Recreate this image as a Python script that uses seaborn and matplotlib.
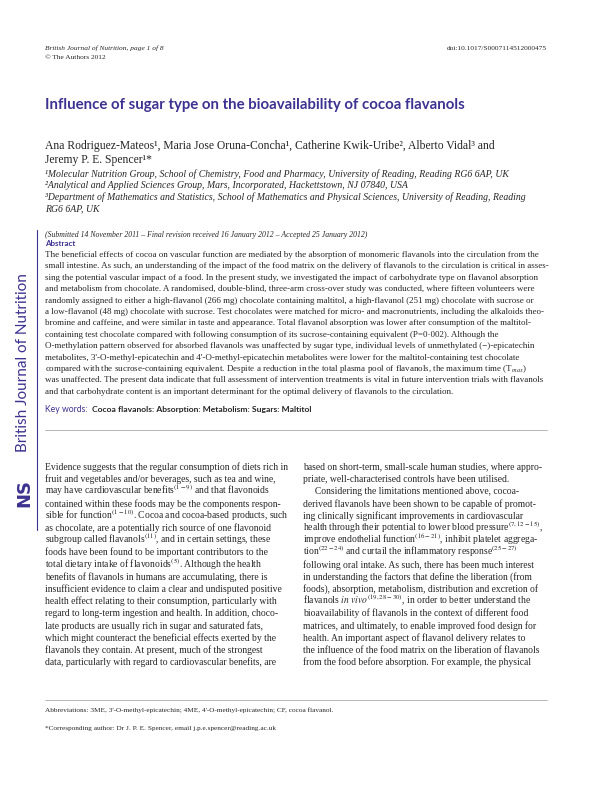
import matplotlib
matplotlib.use("Agg")
import matplotlib.pyplot as plt
import seaborn as sns

sns.set_theme(style="white")
plt.rcParams['font.family'] = ['Liberation Serif', 'DejaVu Serif']
plt.rcParams['mathtext.fontset'] = 'stix'

PURPLE = "#3d3191"
TITLE = "Influence of sugar type on the bioavailability of cocoa flavanols"
header_left = ["British Journal of Nutrition, page 1 of 8", "© The Authors 2012"]
header_right = "doi:10.1017/S0007114512000475"
authors = ["Ana Rodriguez-Mateos¹, Maria Jose Oruna-Concha¹, Catherine Kwik-Uribe², Alberto Vidal³ and",
           "Jeremy P. E. Spencer¹*"]
affil = ["¹Molecular Nutrition Group, School of Chemistry, Food and Pharmacy, University of Reading, Reading RG6 6AP, UK",
         "²Analytical and Applied Sciences Group, Mars, Incorporated, Hackettstown, NJ 07840, USA",
         "³Department of Mathematics and Statistics, School of Mathematics and Physical Sciences, University of Reading, Reading",
         "RG6 6AP, UK"]
submitted = "(Submitted 14 November 2011 – Final revision received 16 January 2012 – Accepted 25 January 2012)"
abstract = [
    "The beneficial effects of cocoa on vascular function are mediated by the absorption of monomeric flavanols into the circulation from the",
    "small intestine. As such, an understanding of the impact of the food matrix on the delivery of flavanols to the circulation is critical in asses-",
    "sing the potential vascular impact of a food. In the present study, we investigated the impact of carbohydrate type on flavanol absorption",
    "and metabolism from chocolate. A randomised, double-blind, three-arm cross-over study was conducted, where fifteen volunteers were",
    "randomly assigned to either a high-flavanol (266 mg) chocolate containing maltitol, a high-flavanol (251 mg) chocolate with sucrose or",
    "a low-flavanol (48 mg) chocolate with sucrose. Test chocolates were matched for micro- and macronutrients, including the alkaloids theo-",
    "bromine and caffeine, and were similar in taste and appearance. Total flavanol absorption was lower after consumption of the maltitol-",
    "containing test chocolate compared with following consumption of its sucrose-containing equivalent (P=0·002). Although the",
    "O-methylation pattern observed for absorbed flavanols was unaffected by sugar type, individual levels of unmethylated (−)-epicatechin",
    "metabolites, 3'-O-methyl-epicatechin and 4'-O-methyl-epicatechin metabolites were lower for the maltitol-containing test chocolate",
    "compared with the sucrose-containing equivalent. Despite a reduction in the total plasma pool of flavanols, the maximum time (T$_{max}$)",
    "was unaffected. The present data indicate that full assessment of intervention treatments is vital in future intervention trials with flavanols",
    "and that carbohydrate content is an important determinant for the optimal delivery of flavanols to the circulation."]
keywords = "Cocoa flavanols: Absorption: Metabolism: Sugars: Maltitol"
col_left = [
    "Evidence suggests that the regular consumption of diets rich in",
    "fruit and vegetables and/or beverages, such as tea and wine,",
    "may have cardiovascular benefits$^{(1-9)}$ and that flavonoids",
    "contained within these foods may be the components respon-",
    "sible for function$^{(1-10)}$. Cocoa and cocoa-based products, such",
    "as chocolate, are a potentially rich source of one flavonoid",
    "subgroup called flavanols$^{(11)}$, and in certain settings, these",
    "foods have been found to be important contributors to the",
    "total dietary intake of flavonoids$^{(5)}$. Although the health",
    "benefits of flavanols in humans are accumulating, there is",
    "insufficient evidence to claim a clear and undisputed positive",
    "health effect relating to their consumption, particularly with",
    "regard to long-term ingestion and health. In addition, choco-",
    "late products are usually rich in sugar and saturated fats,",
    "which might counteract the beneficial effects exerted by the",
    "flavanols they contain. At present, much of the strongest",
    "data, particularly with regard to cardiovascular benefits, are"]
col_right = [
    "based on short-term, small-scale human studies, where appro-",
    "priate, well-characterised controls have been utilised.",
    "     Considering the limitations mentioned above, cocoa-",
    "derived flavanols have been shown to be capable of promot-",
    "ing clinically significant improvements in cardiovascular",
    "health through their potential to lower blood pressure$^{(7,12-15)}$,",
    "improve endothelial function$^{(16-21)}$, inhibit platelet aggrega-",
    "tion$^{(22-24)}$ and curtail the inflammatory response$^{(25-27)}$",
    "following oral intake. As such, there has been much interest",
    "in understanding the factors that define the liberation (from",
    "foods), absorption, metabolism, distribution and excretion of",
    "flavanols $in\\ vivo^{(19,28-30)}$, in order to better understand the",
    "bioavailability of flavanols in the context of different food",
    "matrices, and ultimately, to enable improved food design for",
    "health. An important aspect of flavanol delivery relates to",
    "the influence of the food matrix on the liberation of flavanols",
    "from the food before absorption. For example, the physical"]
footnotes = ["Abbreviations: 3ME, 3'-O-methyl-epicatechin; 4ME, 4'-O-methyl-epicatechin; CF, cocoa flavanol.",
             "*Corresponding author: Dr J. P. E. Spencer, email j.p.e.spencer@reading.ac.uk"]

fig = plt.figure(figsize=(5.95, 7.94), dpi=100)
fig.patch.set_facecolor("white")


def t(x, y, s, **kw):
    kw.setdefault("va", "baseline")
    fig.text(x / 595, 1 - y / 794, s, **kw)


t(45, 50, header_left[0], fontsize=5.3, style="italic")
t(45, 59, header_left[1], fontsize=5.3)
t(547, 50, header_right, fontsize=5.3, ha="right")
t(45, 109, TITLE, fontsize=10.8, color=PURPLE, weight="bold", family=["Lato", "DejaVu Sans"])
for i, s in enumerate(authors):
    t(45, 149 + i * 14, s, fontsize=8.4)
for i, s in enumerate(affil):
    t(45, 177 + i * 11.5, s, fontsize=7.0, style="italic")
t(45, 237, submitted, fontsize=5.6, style="italic")
t(45, 246, "Abstract", fontsize=5.8, color=PURPLE, weight="bold", family=["Lato", "DejaVu Sans"])
for i, s in enumerate(abstract):
    t(45, 257 + i * 11.4, s, fontsize=6.45)
t(45, 412, "Key words:", fontsize=6.2, color=PURPLE, family=["Lato", "DejaVu Sans"])
t(92, 412, keywords, fontsize=6.1, weight="bold", family=["Lato", "DejaVu Sans"])
fig.add_artist(plt.Line2D([45 / 595, 547 / 595], [1 - 430 / 794] * 2, color="0.6", lw=0.5))
for i, s in enumerate(col_left):
    t(45, 470 + i * 12.2, s, fontsize=6.9)
for i, s in enumerate(col_right):
    t(303, 470 + i * 12.2, s, fontsize=6.9)
fig.add_artist(plt.Line2D([45 / 595, 547 / 595], [1 - 700 / 794] * 2, color="0.6", lw=0.5))
t(45, 712, footnotes[0], fontsize=5.2)
t(45, 730, footnotes[1], fontsize=5.2)

# side bar
fig.add_artist(plt.Line2D([37 / 595] * 2, [1 - 230 / 794, 1 - 530 / 794], color=PURPLE, lw=0.8))
t(23, 363, "British Journal of Nutrition", fontsize=11, color=PURPLE, rotation=90,
  ha="center", va="center", family=["Lato", "DejaVu Sans"])
t(24, 493, "NS", fontsize=13, color=PURPLE, rotation=90, weight="bold",
  ha="center", va="center", family=["DejaVu Sans"])

fig.savefig("out.png", dpi=100, facecolor="white")
